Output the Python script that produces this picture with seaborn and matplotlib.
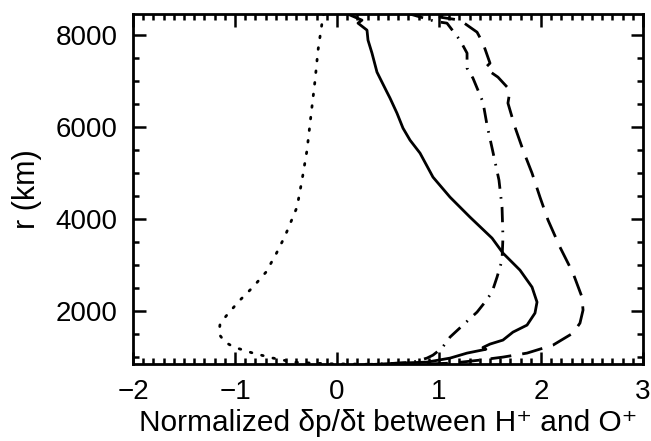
import numpy as np
import pandas as pd
import matplotlib
matplotlib.use("Agg")
import matplotlib.pyplot as plt
from matplotlib.ticker import MultipleLocator
import seaborn as sns

# ---- data ----
solid_x = [0.10, 0.13, 0.245, 0.206, 0.294, 0.304, 0.343, 0.392, 0.441, 0.490, 0.520, 0.588, 0.647,
           0.716, 0.814, 0.941, 1.108, 1.304, 1.520, 1.627, 1.794, 1.912, 1.961, 1.941, 1.863,
           1.725, 1.627, 1.50, 1.431, 1.46, 1.275, 1.108, 0.882, 0.618, 0.225]
solid_r = [8480, 8435, 8326, 8261, 8109, 7891, 7609, 7196, 6978, 6761, 6630, 6304, 5978,
           5717, 5435, 4913, 4478, 4043, 3587, 3261, 2891, 2522, 2196, 1957, 1696,
           1543, 1370, 1283, 1210, 1170, 1087, 978, 891, 870, 826]

dot_x = [-0.13, -0.147, -0.186, -0.216, -0.255, -0.294, -0.343, -0.392, -0.51, -0.598, -0.696,
         -0.824, -0.961, -1.088, -1.147, -1.157, -1.098, -1.01, -0.824, -0.627, -0.43, -0.1, 0.5]
dot_r = [8480, 8261, 7674, 7000, 6261, 5500, 4848, 4261, 3630, 3239, 2848,
         2522, 2217, 1891, 1717, 1500, 1326, 1217, 1087, 978, 891, 855, 840]

dashdot_x = [0.70, 0.961, 1.078, 1.206, 1.275, 1.275, 1.333, 1.382, 1.431, 1.471, 1.529, 1.588,
             1.618, 1.627, 1.618, 1.569, 1.520, 1.451, 1.373, 1.235, 1.108, 1.029, 0.941,
             0.882, 0.745, 0.618, 0.30]
dashdot_r = [8470, 8300, 8261, 7891, 7609, 7283, 7065, 6804, 6544, 6043, 5457, 4848,
             4261, 3609, 3109, 2739, 2413, 2196, 1978, 1696, 1435, 1196, 1043,
             978, 891, 870, 840]

dash_x = [1.05, 1.01, 1.206, 1.373, 1.431, 1.5, 1.451, 1.578, 1.696, 1.676, 1.745, 1.824, 1.912,
          1.990, 2.069, 2.186, 2.314, 2.402, 2.412, 2.382, 2.314, 2.118, 1.863, 1.627,
          1.402, 1.137, 0.80]
dash_r = [8480, 8391, 8326, 8065, 7826, 7391, 7283, 7087, 6804, 6522, 6000, 5500, 5000,
          4478, 3978, 3391, 2826, 2304, 2022, 1739, 1522, 1261, 1087, 1000,
          935, 870, 845]

xlabel = "Normalized \u03b4p/\u03b4t between H\u207a and O\u207a"
ylabel = "r (km)"

sns.set_theme(style="ticks")
plt.rcParams['font.family'] = ['Liberation Sans', 'DejaVu Sans']
plt.rcParams['text.color'] = 'black'
plt.rcParams['axes.labelcolor'] = 'black'
plt.rcParams['xtick.color'] = 'black'
plt.rcParams['ytick.color'] = 'black'

fig = plt.figure(figsize=(6.51, 4.41), dpi=100)
ax = fig.add_axes([133/651, 1 - 364/441, (643-133)/651, (364-14)/441])

lw = 2.0
sns.lineplot(x=solid_x, y=solid_r, sort=False, estimator=None, ax=ax, color="black", lw=lw,
             linestyle="-")
sns.lineplot(x=dot_x, y=dot_r, sort=False, estimator=None, ax=ax, color="black", lw=lw,
             linestyle=(0, (0.6, 3.6)), dash_capstyle="round")
sns.lineplot(x=dashdot_x, y=dashdot_r, sort=False, estimator=None, ax=ax, color="black", lw=lw,
             linestyle=(0, (5.5, 3, 0.6, 3)))
sns.lineplot(x=dash_x, y=dash_r, sort=False, estimator=None, ax=ax, color="black", lw=lw,
             linestyle=(0, (7.5, 4)))

ax.set_xlim(-2, 3)
ax.set_ylim(850, 8460)
ax.xaxis.set_major_locator(MultipleLocator(1))
ax.xaxis.set_minor_locator(MultipleLocator(0.1))
ax.yaxis.set_major_locator(MultipleLocator(2000))
ax.yaxis.set_minor_locator(MultipleLocator(500))
ax.tick_params(which="both", direction="in", top=True, right=True, color="black", width=1.8)
ax.tick_params(which="major", length=9, labelsize=20)
ax.tick_params(axis="x", which="major", pad=11)
ax.tick_params(axis="y", which="major", pad=11)
ax.tick_params(which="minor", length=4)
for s in ax.spines.values():
    s.set_linewidth(2.0)
    s.set_color("black")

ax.set_xticklabels([("\u2212" + str(abs(int(v)))) if v < 0 else str(int(v)) for v in ax.get_xticks()])
ax.set_xlabel(xlabel, fontsize=21.5, labelpad=3)
ax.set_ylabel(ylabel, fontsize=22, labelpad=10)

fig.savefig("out.png", dpi=100)
